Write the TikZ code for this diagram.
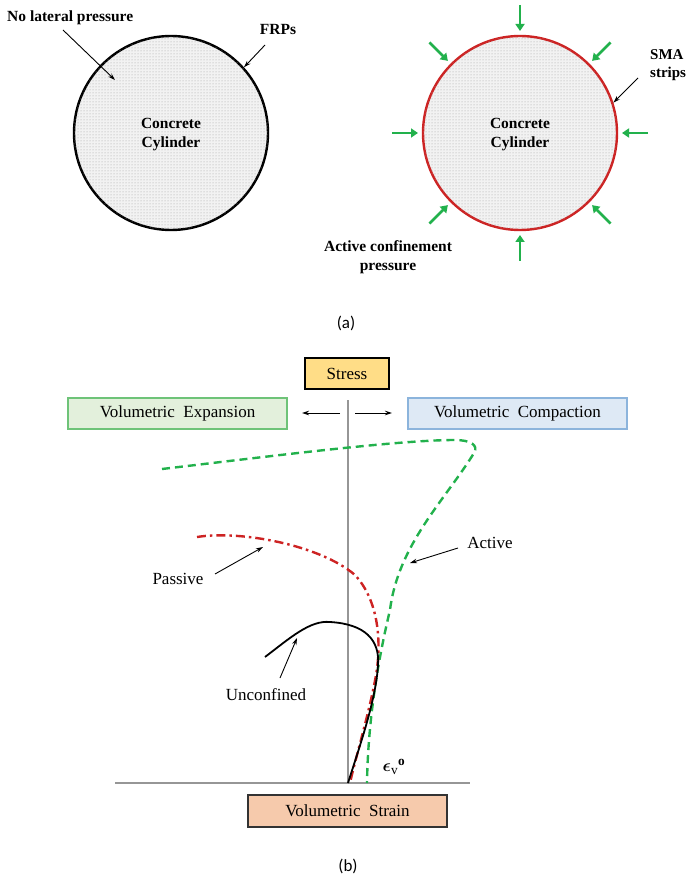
\documentclass[tikz,border=0pt]{standalone}
\usepackage{amsmath}
\usepackage{fontspec}
\setmainfont{Liberation Serif}
\newfontfamily\capfont{Carlito}
\usetikzlibrary{arrows.meta,patterns}
\definecolor{pgreen}{RGB}{34,177,76}
\definecolor{pred}{RGB}{205,35,35}
\definecolor{axgray}{RGB}{150,150,150}
\definecolor{stressfill}{RGB}{255,221,135}
\definecolor{strainfill}{RGB}{246,202,172}
\definecolor{expfill}{RGB}{227,240,220}
\definecolor{expdraw}{RGB}{110,195,120}
\definecolor{compfill}{RGB}{222,233,245}
\definecolor{compdraw}{RGB}{140,180,220}
\tikzset{
  toplbl/.style={font=\fontsize{15.5}{19}\selectfont\bfseries, inner sep=0pt},
  plbl/.style={font=\fontsize{17}{20}\selectfont, inner sep=0pt},
  cyl/.style={circle, minimum size=194pt, inner sep=0pt, fill=gray!10,
     postaction={pattern=dots, pattern color=gray!75}},
  ann/.style={-{Stealth[length=7pt,width=4.5pt]}, line width=0.9pt},
  push/.style={-{Triangle[length=7pt,width=9pt]}, line width=2.8pt, draw=pgreen},
  lbox/.style={draw, line width=1.2pt, inner sep=0pt, font=\fontsize{17}{20}\selectfont},
  capt/.style={font=\capfont\fontsize{17}{20}\selectfont, inner sep=0pt},
}
\begin{document}
\begin{tikzpicture}[x=1pt,y=-1pt]
\useasboundingbox (0,0) rectangle (687,882);

% ---------- (a) left cylinder ----------
\node[cyl, draw=black, line width=2.4pt] (c1) at (171,133) {};
\node[toplbl, align=center] (t1) at (171,135) {Concrete\\Cylinder};
\node[toplbl, anchor=west] (nlp) at (7,18) {No lateral pressure};
\coordinate (nlps) at (63,30);
\coordinate (nlpend) at (115,80);
\draw[ann] (nlps) -- (nlpend);
\node[toplbl] (frp) at (278,30) {FRPs};
\coordinate (frps) at (265,45);
\draw[ann] (frps) -- (c1.42);

% ---------- (a) right cylinder ----------
\node[cyl, draw=pred, line width=2.4pt] (c2) at (520,133) {};
\node[toplbl, align=center] (t2) at (520,135) {Concrete\\Cylinder};
\foreach \a in {0,45,...,315}{
  \draw[push] (c2.center) ++(\a:128) -- ++(\a:-26);
}
\node[toplbl, font=\fontsize{15}{18}\selectfont\bfseries, anchor=west, align=left] (sma) at (650,65) {SMA\\strips};
\coordinate (smas) at (638,78);
\draw[ann] (smas) -- (c2.18);
\node[toplbl, align=center] (acp) at (388,257) {Active confinement\\pressure};

\node[capt] (capa) at (346,323) {(a)};

% ---------- (b) ----------
\node[lbox, fill=stressfill, minimum width=84pt, minimum height=31pt] (stress) at (347,373.5) {Stress};
\node[lbox, draw=expdraw, fill=expfill, minimum width=219pt, minimum height=31pt] (exp) at (177.5,413.5) {Volumetric\ \ Expansion};
\node[lbox, draw=compdraw, fill=compfill, minimum width=219pt, minimum height=31pt] (comp) at (517.5,413.5) {Volumetric\ \ Compaction};
\node[lbox, draw=black!80, fill=strainfill, minimum width=199pt, minimum height=32pt] (strain) at (347.5,811) {Volumetric\ \ Strain};

\coordinate (vtop) at (348,400);
\coordinate (org) at (348,783);
\coordinate (hl) at (115,783);
\coordinate (hr) at (470,783);
\draw[axgray, line width=1.3pt] (vtop) -- (org);
\draw[axgray, line width=2pt] (hl) -- (hr);

\coordinate (la1) at (340,413); \coordinate (la2) at (302,413);
\coordinate (ra1) at (355,413); \coordinate (ra2) at (392,413);
\draw[ann] (la1) -- (la2);
\draw[ann] (ra1) -- (ra2);

% curves
\draw[pgreen, line width=2.4pt, dash pattern=on 8pt off 5pt]
  (162,469) .. controls (280,455) and (400,440) .. (455,440)
  .. controls (470,440) and (479,445) .. (474,453)
  .. controls (445,500) and (398,545) .. (390,610)
  .. controls (378,660) and (368,720) .. (367,783);
\draw[pred, line width=2.4pt, dash pattern=on 9pt off 4pt on 2.5pt off 4pt]
  (197,537) .. controls (240,530) and (320,545) .. (355,575)
  .. controls (378,600) and (382,640) .. (376,675)
  .. controls (370,710) and (355,760) .. (350,783);
\draw[black, line width=1.8pt]
  (265,657) .. controls (290,638) and (310,620) .. (330,622)
  .. controls (365,624) and (380,640) .. (378,665)
  .. controls (376,700) and (360,745) .. (348,783);

\node[plbl] (act) at (490,543) {Active};
\coordinate (acts) at (458,548);
\draw[ann] (acts) -- (410,563);
\node[plbl] (pas) at (178,579) {Passive};
\coordinate (pass) at (215,574);
\draw[ann] (pass) -- (263,547);
\node[plbl] (unc) at (266,695) {Unconfined};
\coordinate (uncs) at (280,678);
\draw[ann] (uncs) -- (297,638);

\node[inner sep=0pt, font=\fontsize{19}{22}\selectfont] (eps) at (394,767) {$\boldsymbol{\epsilon}_{\mathrm{v}}{}^{\mathbf{o}}$};

\node[capt] (capb) at (348,866) {(b)};
\end{tikzpicture}
\end{document}
